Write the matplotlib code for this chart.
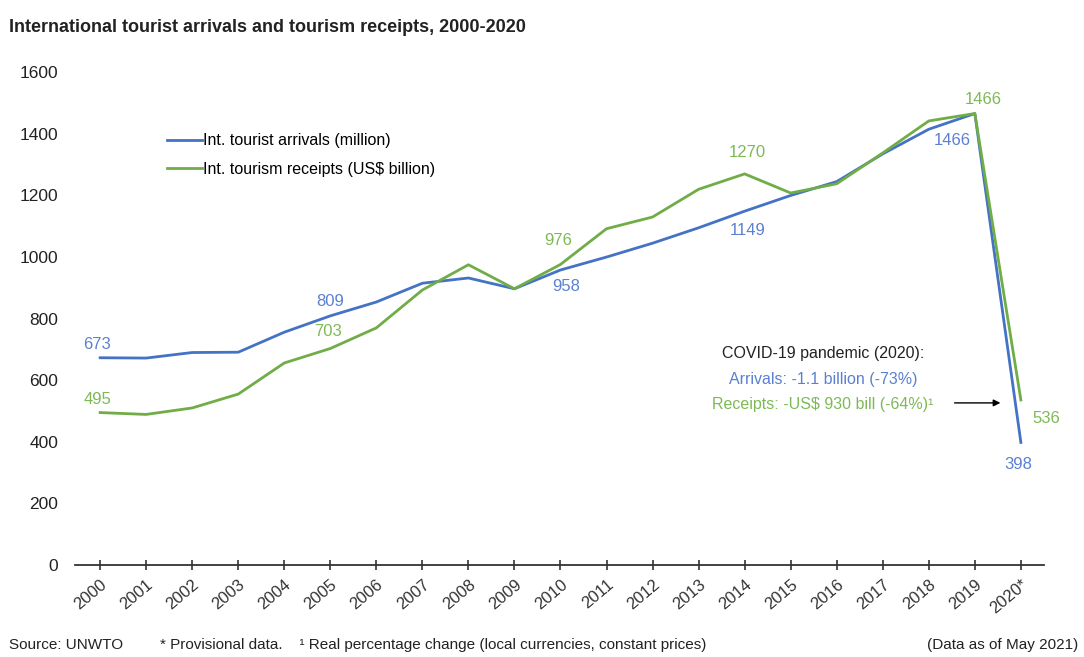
import numpy as np
import matplotlib.pyplot as plt

years = list(range(2000, 2021))
year_labels = [str(y) for y in years[:-1]] + ['2020*']
arrivals = [673, 672, 690, 691, 756, 809, 854, 915, 932, 897, 958, 1000, 1045, 1095, 1149, 1200, 1245, 1335, 1415, 1466, 398]
receipts = [495, 489, 510, 555, 656, 703, 770, 893, 975, 897, 976, 1092, 1130, 1220, 1270, 1208, 1238, 1338, 1442, 1466, 536]

# which points get a value label: (year index, offset in points)
arr_labels = [(0, (-2, 4)), (5, (0, 5)), (10, (4, -17)), (14, (2, -19)), (19, (-16, -25)), (20, (-2, -21))]
rec_labels = [(0, (-2, 4)), (5, (-2, 7)), (10, (-2, 12)), (14, (2, 10)), (19, (6, 5)), (20, (18, -19))]

blue = '#4472C4'
green = '#70AD47'
blue_txt = '#5B80D2'
green_txt = '#7DBA55'

plt.rcParams['font.family'] = ['Liberation Sans', 'DejaVu Sans']

fig = plt.figure(figsize=(10.84, 6.57), dpi=100)
ax = fig.add_axes([0.069, 0.14, 0.894, 0.75])

x = np.arange(len(years))
ax.plot(x, arrivals, color=blue, lw=2, label='Int. tourist arrivals (million)')
ax.plot(x, receipts, color=green, lw=2, label='Int. tourism receipts (US$ billion)')

for i, off in arr_labels:
    ax.annotate(str(arrivals[i]), (x[i], arrivals[i]), xytext=off, textcoords='offset points',
                ha='center', va='bottom', color=blue_txt, fontsize=12)
for i, off in rec_labels:
    ax.annotate(str(receipts[i]), (x[i], receipts[i]), xytext=off, textcoords='offset points',
                ha='center', va='bottom', color=green_txt, fontsize=12)

ax.set_xlim(-0.55, 20.5)
ax.set_ylim(0, 1600)
ax.set_yticks(range(0, 1601, 200))
ax.set_xticks(x)
ax.set_xticklabels(year_labels, rotation=40, ha='right', rotation_mode='anchor', fontsize=12)
ax.tick_params(axis='y', length=0, labelsize=12.5, pad=12, colors='#222222')
ax.tick_params(axis='x', direction='inout', length=7, width=1.2, colors='#333333', pad=5)
for s in ['top', 'right', 'left']:
    ax.spines[s].set_visible(False)
ax.spines['bottom'].set_color('#333333')
ax.spines['bottom'].set_linewidth(1.3)

ax.legend(loc='upper left', bbox_to_anchor=(0.08, 0.905), frameon=False, fontsize=11.5,
          handlelength=2.2, handletextpad=0.1, labelspacing=0.85)

# covid note
ax.text(0.772, 0.42, 'COVID-19 pandemic (2020):', transform=ax.transAxes, ha='center', fontsize=11.5, color='#222222')
ax.text(0.772, 0.367, 'Arrivals: -1.1 billion (-73%)', transform=ax.transAxes, ha='center', fontsize=11.5, color=blue_txt)
ax.text(0.772, 0.317, 'Receipts: -US$ 930 bill (-64%)\u00b9', transform=ax.transAxes, ha='center', fontsize=11.5, color=green_txt)
ax.annotate('', xy=(0.958, 0.329), xytext=(0.905, 0.329), xycoords='axes fraction',
            arrowprops=dict(arrowstyle='-|>', color='black', lw=1))

fig.text(0.008, 0.952, 'International tourist arrivals and tourism receipts, 2000-2020',
         fontsize=13, fontweight='bold', color='#222222')
fig.text(0.008, 0.012, 'Source: UNWTO', fontsize=11, color='#222222')
fig.text(0.148, 0.012, '* Provisional data.    \u00b9 Real percentage change (local currencies, constant prices)',
         fontsize=11, color='#222222')
fig.text(0.995, 0.012, '(Data as of May 2021)', fontsize=11, color='#222222', ha='right')

fig.savefig('out.png', dpi=100)
